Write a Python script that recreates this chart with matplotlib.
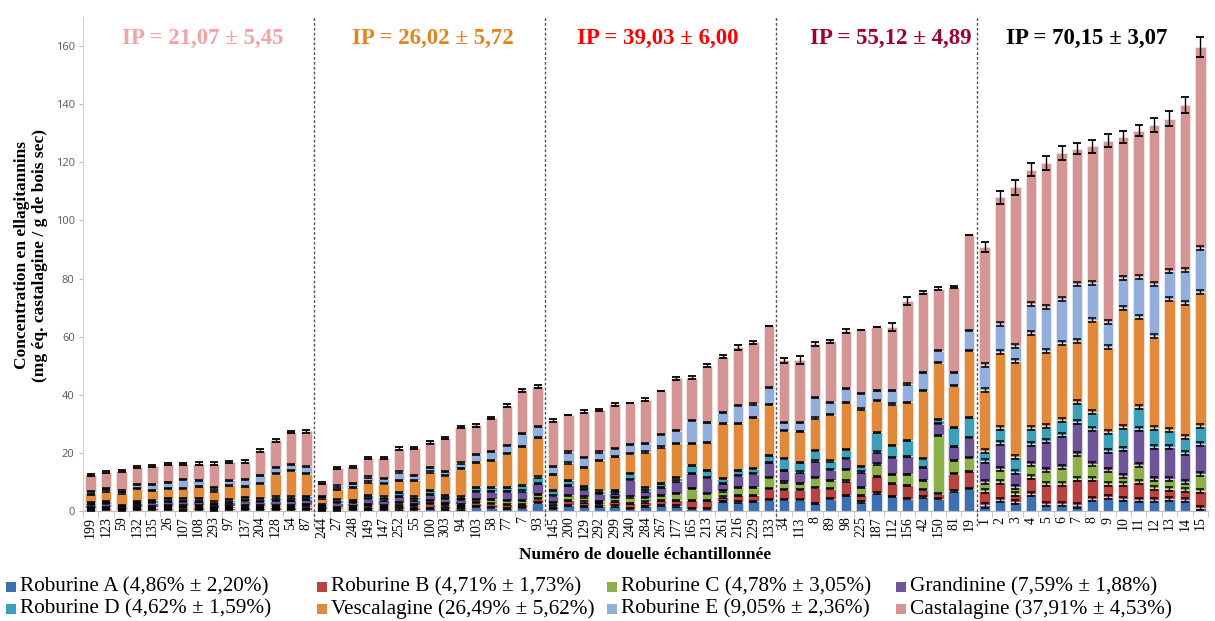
import matplotlib
matplotlib.use("Agg")
import matplotlib.pyplot as plt
from matplotlib.patches import Rectangle
import numpy as np

# ---------------- data ----------------
labels_g1 = ['199','123','59','132','135','26','107','108','293','97','137','204','128','54','87']
labels_g2 = ['244','27','248','149','147','252','55','100','303','94','103','58','77','7','93']
labels_g3 = ['145','200','129','292','299','240','284','267','177','165','213','261','216','229','133']
labels_g4 = ['34','113','8','89','98','225','187','112','156','42','150','81','19']
labels_g5 = [str(i) for i in range(1, 16)]
labels = labels_g1 + labels_g2 + labels_g3 + labels_g4 + labels_g5

roburine_a = [0.3,0.4,0.2,0.4,0.4,0.4,0.3,0.4,0.3,0.4,0.4,0.4,0.5,0.5,0.4,
              0.2,0.3,0.4,0.6,0.5,0.7,0.5,1.0,0.6,0.7,1.5,1.2,1.0,1.2,2.8,
              0.8,1.9,1.6,1.6,1.7,0.8,1.6,1.9,1.7,0.8,0.8,3.4,3.1,3.4,3.9,
              3.9,3.9,2.7,4.2,5.4,3.1,6.2,5.0,4.2,4.8,4.2,6.9,7.7,
              1.9,3.7,3.1,5.9,2.3,2.5,1.9,4.2,4.8,4.2,3.7,3.7,4.2,3.7,1.1]
roburine_b = [0.5,0.5,0.3,0.6,0.7,0.8,0.8,0.9,0.5,0.7,0.9,0.7,0.8,0.8,1.0,
              0.3,0.5,0.6,0.8,0.7,1.2,0.9,1.5,1.1,0.8,1.3,1.3,1.3,1.1,1.4,
              1.0,1.8,1.5,0.9,1.7,1.9,1.5,1.8,2.0,2.9,2.9,1.4,2.3,2.0,3.8,
              3.4,3.4,5.3,3.5,4.9,2.3,5.7,4.6,4.6,2.5,1.7,5.9,6.0,
              5.0,6.3,2.8,5.8,6.9,6.9,9.2,6.9,4.6,5.2,6.3,4.3,3.5,3.4,5.8]
roburine_c = [0.4,0.4,0.3,0.5,0.4,0.6,0.6,0.6,0.4,0.6,0.7,0.6,0.7,0.7,0.8,
              0.2,0.5,0.6,0.8,0.8,0.9,0.8,1.1,0.8,0.8,1.1,1.5,1.3,1.4,1.6,
              1.0,1.7,1.7,0.9,1.2,2.1,1.5,1.7,2.2,4.0,2.2,2.1,2.8,2.8,3.7,
              2.7,2.3,3.4,2.8,3.9,2.8,4.3,3.0,3.8,3.2,20.1,4.6,4.6,
              3.1,4.5,2.3,4.5,4.8,5.7,8.6,5.1,4.6,2.8,5.7,3.1,3.4,2.9,5.7]
grandinine = [1.0,1.2,0.7,1.1,1.3,1.5,1.5,1.4,1.1,1.3,1.6,1.5,1.6,1.7,1.8,
              0.9,1.6,1.3,2.0,1.8,2.3,1.6,2.2,1.8,1.6,2.8,2.6,3.0,3.2,3.8,
              2.5,3.4,2.5,2.5,1.6,6.0,2.3,2.8,4.4,5.3,5.5,2.7,4.0,4.6,5.4,
              4.0,3.8,5.8,3.7,3.8,5.2,4.1,5.7,6.2,4.6,4.0,4.8,6.9,
              7.2,8.8,5.2,6.9,10.0,10.9,10.8,12.1,6.8,9.2,12.6,10.9,10.9,9.9,10.3]
roburine_d = [0.6,0.8,0.5,0.8,0.9,1.0,1.1,1.0,0.8,0.9,1.0,1.1,1.2,1.1,1.1,
              0.7,1.0,0.8,1.2,1.0,1.4,1.0,1.3,1.1,0.9,1.5,1.6,1.6,1.9,2.1,
              1.8,1.7,1.2,1.0,0.9,2.0,1.1,1.4,1.1,2.7,2.6,1.5,1.8,1.7,2.3,
              4.0,3.4,3.6,3.0,3.1,1.9,6.8,4.2,5.5,2.9,1.4,6.6,7.1,
              3.6,5.3,5.1,5.4,5.1,5.4,6.9,5.7,6.3,7.4,7.4,6.6,5.9,5.5,6.5]
vescalagine = [2.9,3.6,4.2,4.3,3.4,3.4,3.4,4.2,3.8,5.0,3.9,5.1,8.0,9.0,7.8,
               2.2,3.5,4.5,4.6,4.6,4.0,5.7,6.3,6.8,9.7,8.6,9.2,11.5,13.4,13.7,
               5.5,6.0,6.6,10.5,11.7,6.9,12.3,12.4,11.9,7.6,9.7,19.1,16.2,17.8,17.5,
               9.7,10.7,11.2,16.0,16.3,19.8,10.9,14.3,13.1,23.4,19.7,14.3,22.8,
               20.8,26.0,33.2,32.8,26.0,26.3,21.0,31.7,29.4,41.2,31.1,31.7,45.0,46.3,46.1]
roburine_e = [0.9,0.8,0.7,1.3,2.1,2.0,3.1,2.1,1.1,1.7,2.3,2.9,2.1,2.3,2.5,
              0.6,1.2,1.4,1.7,1.7,2.9,1.7,1.7,1.5,2.0,2.7,3.2,2.8,4.6,3.7,
              2.8,3.8,3.2,2.9,2.6,3.2,3.0,4.3,4.4,7.8,6.8,3.8,6.1,4.5,6.0,
              2.8,3.0,7.1,4.2,4.9,5.2,3.6,4.8,6.3,6.3,4.0,4.6,6.9,
              8.7,9.9,5.2,10.0,15.2,15.2,19.6,12.9,8.4,10.1,13.7,17.7,9.7,11.1,14.9]
castalagine = [5.9,5.7,6.9,6.2,6.4,6.5,5.4,5.7,8.3,6.2,6.2,8.4,9.5,11.1,12.1,
               4.5,6.3,5.5,6.6,7.2,8.1,9.5,8.5,11.4,12.3,10.0,11.4,13.8,14.8,13.7,
               15.7,12.9,15.9,14.5,15.4,14.4,15.0,14.9,18.0,14.7,19.5,19.1,20.0,21.2,21.1,
               21.4,21.4,18.3,21.0,19.7,21.9,21.6,21.8,28.6,27.5,21.4,29.4,33.0,
               40.5,43.5,54.5,46.1,49.5,50.3,46.7,46.9,62.5,48.5,50.4,54.7,52.4,56.8,69.4]

top_err = [0.4,0.4,0.4,0.4,0.4,0.4,0.4,0.4,0.4,0.4,0.4,0.5,0.5,0.5,0.5,
           0.3,0.4,0.4,0.4,0.4,0.4,0.4,0.4,0.4,0.4,0.5,0.5,0.5,0.5,0.5,
           0.5,0.0,0.4,0.4,0.5,0.0,0.5,0.0,0.5,0.5,0.5,0.6,0.8,0.5,0.0,
           0.8,1.3,0.6,0.5,0.6,0.0,0.0,1.3,1.3,0.6,0.5,0.4,0.0,
           1.8,2.2,2.6,2.2,2.3,2.3,2.0,2.2,2.3,2.0,2.0,2.4,2.5,2.8,3.4]
seg_err = [0.2]*58 + [0.7]*15

series_names = ['Roburine A (4,86% ± 2,20%)', 'Roburine B (4,71% ± 1,73%)',
                'Roburine C (4,78% ± 3,05%)', 'Grandinine (7,59% ± 1,88%)',
                'Roburine D (4,62% ± 1,59%)', 'Vescalagine (26,49% ± 5,62%)',
                'Roburine E (9,05% ± 2,36%)', 'Castalagine (37,91% ± 4,53%)']
series_vals = [roburine_a, roburine_b, roburine_c, grandinine,
               roburine_d, vescalagine, roburine_e, castalagine]
colors = ['#3E6FB0', '#B84341', '#8DB04A', '#6F5497',
          '#3DA0B8', '#E28A3B', '#93AEDA', '#D69595']

group_sizes = [15, 15, 15, 13, 15]
group_titles = ['IP = 21,07 ± 5,45', 'IP = 26,02 ± 5,72', 'IP = 39,03 ± 6,00',
                'IP = 55,12 ± 4,89', 'IP = 70,15 ± 3,07']
title_colors = ['#F4A3A3', '#E8821E', '#FF0000', '#A0002A', '#000000']
title_shift = [0.3, 0.2, -0.2, 0.9, -0.4]

# ---------------- figure ----------------
SERIF = 'Liberation Serif'
W, H = 1215, 621
fig = plt.figure(figsize=(12.15, 6.21), dpi=100)
ax = fig.add_axes([83/W, 1-511/H, (1208-83)/W, (511-17)/H])

n = len(labels)
x = np.arange(n)
bottom = np.zeros(n)
for i, (vals, col) in enumerate(zip(series_vals, colors)):
    v = np.array(vals)
    ax.bar(x, v, bottom=bottom, width=0.68, color=col, edgecolor='#f4f4f4',
           linewidth=0.4, zorder=2)
    bottom = bottom + v
    last = i == len(series_vals) - 1
    err = np.array(top_err) if last else np.array(seg_err)
    ax.errorbar(x, bottom, yerr=err, fmt='none', ecolor='black',
                elinewidth=1.0, capsize=3.0, capthick=1.3 if last else 1.1,
                zorder=3)

ax.set_xlim(-0.5, n-0.5)
ax.set_ylim(0, 170)
ax.set_yticks(np.arange(0, 161, 20))
ax.tick_params(axis='y', length=3, color='#BFBFBF', labelsize=8,
               labelcolor='#595959', pad=3)
for lab in ax.get_yticklabels():
    lab.set_family('Open Sans')
ax.set_xticks(x)
ax.set_xticklabels(labels, rotation=90, fontsize=10, family=SERIF)
ax.tick_params(axis='x', length=0, pad=4)
ax.set_xticks(np.arange(-0.5, n, 1), minor=True)
ax.tick_params(axis='x', which='minor', length=4, color='#BFBFBF')

for s in ['top', 'right']:
    ax.spines[s].set_visible(False)
ax.spines['left'].set_color('#D0D0D0')
ax.spines['bottom'].set_color('#BFBFBF')

# separators and titles
start = 0
for k, gs in enumerate(group_sizes):
    centre = start + (gs - 1) / 2 + title_shift[k]
    ax.text(centre, 162.5, group_titles[k], ha='center', va='center',
            fontsize=16.5, fontweight='bold', family=SERIF, color=title_colors[k])
    start += gs
    if k < len(group_sizes) - 1:
        ax.axvline(start - 0.5, ymin=-0.03, ymax=1, color='#555555',
                   linestyle=(0, (2, 1.5)), linewidth=1.0, clip_on=False, zorder=4)

fig.text(31/W, 1-255/H,
         'Concentration en ellagitannins\n(mg éq. castalagine / g de bois sec)',
         rotation=90, ha='center', va='center', fontsize=12.5,
         fontweight='bold', family=SERIF, linespacing=1.1)
fig.text(645/W, 1-555/H, 'Numéro de douelle échantillonnée',
         ha='center', va='center', fontsize=12.5, fontweight='bold', family=SERIF)

# legend (2 rows x 4 columns), placed manually
col_x = [6, 317, 607, 896]
row_y = [587, 609]
sq = 10
for idx, (name, col) in enumerate(zip(series_names, colors)):
    r, c = divmod(idx, 4)
    px, py = col_x[c], row_y[r]
    fig.add_artist(Rectangle((px/W, 1-(py+sq/2)/H), sq/W, sq/H,
                             transform=fig.transFigure, facecolor=col,
                             edgecolor='none'))
    fig.text((px+sq+4)/W, 1-py/H, name, ha='left', va='center',
             fontsize=15.3, family=SERIF)

fig.savefig('out.png', dpi=100)
